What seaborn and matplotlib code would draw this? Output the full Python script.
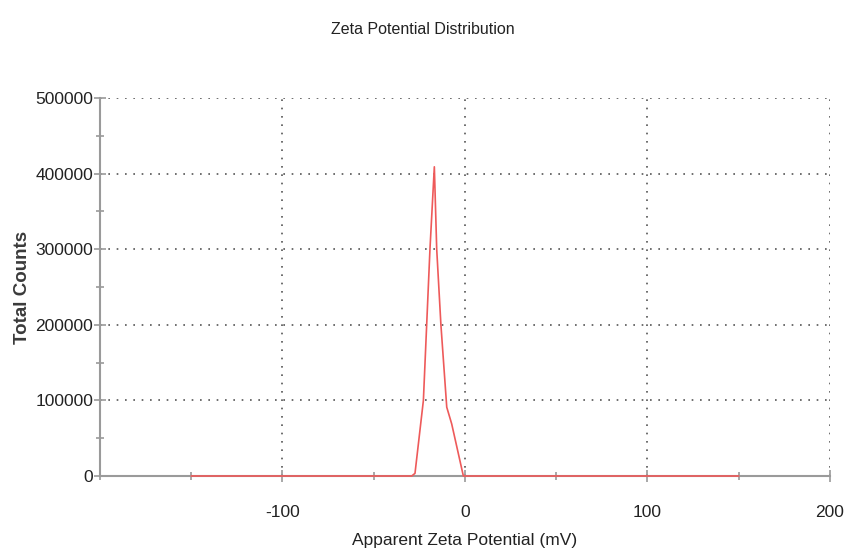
import matplotlib
matplotlib.use("Agg")
import matplotlib.pyplot as plt
import seaborn as sns
import pandas as pd
from matplotlib.ticker import MultipleLocator

potential_mv = [-150, -100, -50, -29.2, -27.4, -22.8, -21.0, -19.2, -16.8, -15.5, -13.2, -10.0, -7.3, -0.9, 0, 50, 100, 150]
total_counts = [0, 0, 0, 0, 3500, 100000, 200000, 300000, 409000, 300000, 200000, 91000, 69000, 0, 0, 0, 0, 0]
x_ticks = [-100, 0, 100, 200]
y_ticks = [0, 100000, 200000, 300000, 400000, 500000]

df = pd.DataFrame({"Apparent Zeta Potential (mV)": potential_mv, "Total Counts": total_counts})

sns.set_theme(style="white")
plt.rcParams['font.family'] = ['Liberation Sans', 'DejaVu Sans']

fig = plt.figure(figsize=(8.45, 5.56), dpi=100)
ax = fig.add_axes([100/845, 1-476/556, 730/845, 378/556])

sns.lineplot(data=df, x="Apparent Zeta Potential (mV)", y="Total Counts", ax=ax,
             color="#ee5a5a", linewidth=1.2, sort=False, zorder=3, clip_on=False)

ax.set_xlim(-200, 200)
ax.set_ylim(0, 500000)
ax.set_xticks(x_ticks)
ax.set_yticks(y_ticks)
ax.set_xticklabels([str(t) for t in x_ticks])
ax.set_yticklabels([str(t) for t in y_ticks])
ax.xaxis.set_minor_locator(MultipleLocator(50))
ax.yaxis.set_minor_locator(MultipleLocator(50000))

for s in ["top", "right"]:
    ax.spines[s].set_visible(False)
for s in ["left", "bottom"]:
    ax.spines[s].set_color("#9a9a9a")
    ax.spines[s].set_linewidth(1.5)

ax.grid(True, which="major", linestyle=(0, (1, 4)), color="#555555", linewidth=1.2)
ax.tick_params(axis="both", which="major", direction="inout", length=8, width=1.2, color="#9a9a9a",
               labelsize=12.5, labelcolor="#222222")
ax.tick_params(axis="both", which="minor", direction="inout", length=6, width=1.2, color="#9a9a9a")
ax.tick_params(axis="x", which="both", bottom=True, pad=17)
ax.tick_params(axis="y", which="both", left=True, pad=1)

ax.set_xlabel("Apparent Zeta Potential (mV)", fontsize=12.5, color="#222222", labelpad=9)
ax.set_ylabel("Total Counts", fontsize=13.5, color="#3a3a3a", fontweight="bold", labelpad=3)
fig.text(0.5, 1-30/556, "Zeta Potential Distribution", ha="center", va="center",
         fontsize=11.5, color="#222222")

fig.savefig("out.png", dpi=100)
